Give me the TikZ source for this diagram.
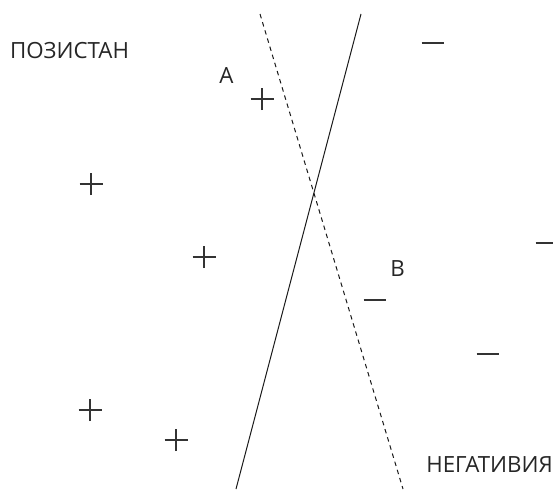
\documentclass[tikz,border=0pt]{standalone}
\usepackage{fontspec}
\setmainfont{Open Sans}
\begin{document}
\begin{tikzpicture}[x=1pt,y=-1pt,
  sign/.style={line width=1.2pt,draw=black!80},
  lbl/.style={inner sep=0pt,text=black!85,font=\fontsize{22.3}{25}\selectfont},
  sep/.style={line width=1pt,draw=black!90}]
\useasboundingbox (0,0) rectangle (553,490);
\clip (0,0) rectangle (553,490);
% separating lines
\coordinate (s1) at (361,14);
\coordinate (s2) at (236,489);
\coordinate (d1) at (260,14);
\coordinate (d2) at (403,489);
\draw[sep] (s1) -- (s2);
\draw[sep,dash pattern=on 4.5pt off 4pt] (d1) -- (d2);
% plus signs
\foreach \n/\x/\y in {p1/262/99, p2/91/184, p3/204/257, p4/90/410, p5/176/440}{
  \coordinate (\n) at (\x,\y);
  \draw[sign] ([xshift=-11.5pt]\n) -- ([xshift=11.5pt]\n);
  \draw[sign] ([yshift=-11pt]\n) -- ([yshift=11pt]\n);
}
% minus signs
\foreach \n/\x/\y in {m1/433/43, m2/547/243, m3/375/300, m4/488/354}{
  \coordinate (\n) at (\x,\y);
  \draw[sign] ([xshift=-11.3pt]\n) -- ([xshift=11.3pt]\n);
}
% labels
\node[lbl,anchor=west] (pos) at (10,51) {ПОЗИСТАН};
\node[lbl] (A) at (226.5,76) {A};
\node[lbl] (B) at (397.5,269) {B};
\node[lbl,anchor=east] (neg) at (553,464) {НЕГАТИВИЯ};
\end{tikzpicture}
\end{document}
